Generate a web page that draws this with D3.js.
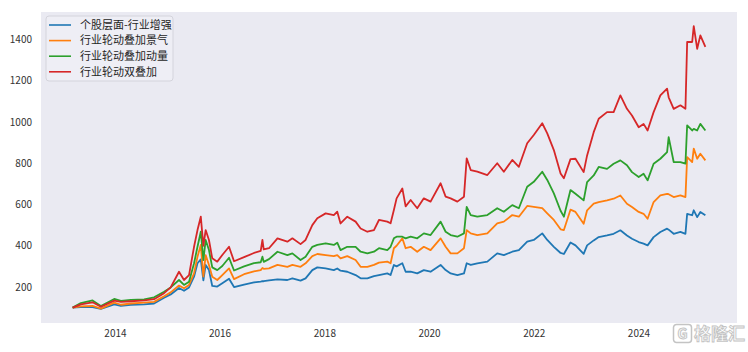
<!DOCTYPE html>
<html>
<head>
<meta charset="utf-8">
<script src="https://cdn.jsdelivr.net/npm/d3@7"></script>
<style>
  body { margin: 0; background: #fff; }
  text { font-family: "Noto Sans CJK SC", "DejaVu Sans", sans-serif; }
</style>
</head>
<body>
<svg id="chart" width="748" height="352"></svg>
<script>
// values
var dates = [
  "2013-03-12","2013-05-08","2013-07-29","2013-09-25","2013-12-27","2014-02-12","2014-04-22","2014-07-24","2014-10-01","2014-12-10",
  "2015-01-25","2015-03-24","2015-04-28","2015-06-02","2015-07-07","2015-07-31","2015-08-23","2015-09-10","2015-09-26","2015-10-19",
  "2015-11-11","2015-12-16","2016-01-20","2016-03-07","2016-04-11","2016-06-20","2016-08-28","2016-10-14","2016-10-26","2016-11-04",
  "2016-12-11","2017-02-08","2017-04-18","2017-05-23","2017-07-19","2017-08-23","2017-10-09","2017-11-13","2018-01-10","2018-03-08",
  "2018-04-01","2018-04-24","2018-06-10","2018-08-07","2018-09-11","2018-10-28","2018-12-13","2019-01-17","2019-03-16","2019-04-08",
  "2019-05-01","2019-05-20","2019-06-29","2019-07-22","2019-08-26","2019-10-11","2019-11-26","2020-01-12","2020-03-22","2020-04-26",
  "2020-05-31","2020-07-17","2020-09-01","2020-09-20","2020-10-18","2020-12-03","2021-02-11","2021-04-21","2021-06-06","2021-08-04",
  "2021-09-19","2021-11-16","2022-01-01","2022-03-01","2022-04-05","2022-05-21","2022-07-07","2022-07-30","2022-09-14","2022-10-19",
  "2022-12-15","2023-01-08","2023-02-23","2023-03-30","2023-05-27","2023-07-12","2023-08-28","2023-10-13","2023-11-17","2024-01-03",
  "2024-02-06","2024-03-05","2024-04-16","2024-06-02","2024-07-19","2024-07-30","2024-09-03","2024-10-20","2024-11-24","2024-12-06",
  "2025-01-10","2025-01-21","2025-02-14","2025-03-08","2025-04-12"
];

var stockEnh = [
  100,102,103,94,116,108,114,116,120,148,
  164,195,182,198,250,315,334,232,307,282,
  205,202,218,240,200,212,222,226,228,228,
  232,237,234,242,231,242,282,295,290,282,
  290,279,274,258,242,242,253,258,266,258,
  307,300,315,274,274,266,282,274,307,282,
  266,258,266,315,307,315,323,363,355,371,
  379,420,428,460,428,395,365,360,416,402,
  361,402,426,442,450,458,475,450,434,418,
  410,402,442,467,483,478,458,467,458,555,
  548,572,539,564,548
];

var rotProsp = [
  100,106,108,95,124,114,120,124,128,155,
  174,207,194,210,266,347,404,250,355,307,
  250,234,258,290,238,262,276,282,292,288,
  290,307,298,307,298,315,350,360,355,350,
  355,339,350,331,298,298,307,318,323,315,
  388,400,436,388,395,371,395,379,436,395,
  363,363,388,476,460,452,460,509,517,549,
  541,593,589,582,557,525,480,476,575,564,
  507,572,604,612,620,628,644,604,588,564,
  555,531,612,644,652,650,636,644,636,830,
  806,871,822,846,814
];

var rotMom = [
  100,122,135,108,142,133,138,140,150,177,
  198,234,210,226,315,395,468,330,428,379,
  295,282,302,342,280,300,316,320,347,322,
  335,371,355,363,331,347,395,404,412,404,
  415,379,395,395,371,363,371,388,379,395,
  436,444,444,436,444,436,460,452,517,468,
  452,444,460,589,549,541,549,582,565,597,
  582,686,710,759,719,654,570,541,670,652,
  620,709,741,782,773,798,814,790,757,733,
  749,717,798,822,854,927,806,806,798,984,
  959,967,959,991,959
];

var rotDouble = [
  100,116,126,104,134,128,131,135,141,170,
  198,274,234,258,395,476,541,400,476,428,
  339,323,355,395,325,345,365,375,428,382,
  388,436,420,436,408,428,500,533,557,549,
  565,508,541,517,484,468,476,525,517,509,
  573,630,678,591,622,582,630,614,703,638,
  630,614,638,824,767,759,743,800,759,816,
  783,897,937,994,945,864,751,727,820,822,
  757,838,951,1016,1048,1048,1129,1064,1032,975,
  991,959,1048,1129,1162,1120,1064,1081,1064,1388,
  1388,1465,1355,1420,1364
];

var seriesNames = ["个股层面-行业增强", "行业轮动叠加景气", "行业轮动叠加动量", "行业轮动双叠加"];
var yTicks = [200, 400, 600, 800, 1000, 1200, 1400];
var xTickYears = [2014, 2016, 2018, 2020, 2022, 2024];

var colors = ["#1f77b4", "#ff7f0e", "#2ca02c", "#d62728"];
var allSeries = [stockEnh, rotProsp, rotMom, rotDouble];

var margin = {top: 12, right: 11, bottom: 29, left: 41};
var width = 748 - margin.left - margin.right,
    height = 352 - margin.top - margin.bottom;

var parse = d3.timeParse("%Y-%m-%d");
var parsed = dates.map(parse);

var svg = d3.select("#chart");
var g = svg.append("g").attr("transform", "translate(" + margin.left + "," + margin.top + ")");

g.append("rect")
  .attr("width", width)
  .attr("height", height)
  .attr("fill", "#eaeaf2");

// matplotlib style 5% margins
var t0 = +parsed[0], t1 = +parsed[parsed.length - 1];
var tPad = (t1 - t0) * 0.05;
var x = d3.scaleTime()
  .domain([new Date(t0 - tPad), new Date(t1 + tPad)])
  .range([0, width]);

var vMin = d3.min(allSeries, function(s) { return d3.min(s); }),
    vMax = d3.max(allSeries, function(s) { return d3.max(s); });
var vPad = (vMax - vMin) * 0.05;
var y = d3.scaleLinear()
  .domain([vMin - vPad, vMax + vPad])
  .range([height, 0]);

var line = d3.line()
  .x(function(d) { return x(d.date); })
  .y(function(d) { return y(d.value); });

allSeries.forEach(function(vals, i) {
  var pts = vals.map(function(v, j) { return {date: parsed[j], value: v}; });
  g.append("path")
    .datum(pts)
    .attr("fill", "none")
    .attr("stroke", colors[i])
    .attr("stroke-width", 1.8)
    .attr("stroke-linejoin", "round")
    .attr("d", line);
});

var xAxis = g.append("g")
  .attr("transform", "translate(0," + height + ")")
  .call(d3.axisBottom(x)
    .tickValues(xTickYears.map(function(yr) { return new Date(yr, 0, 1); }))
    .tickFormat(d3.timeFormat("%Y"))
    .tickSize(0)
    .tickPadding(7));
var yAxis = g.append("g")
  .call(d3.axisLeft(y).tickValues(yTicks).tickFormat(d3.format("d")).tickSize(0).tickPadding(9));

[xAxis, yAxis].forEach(function(ax) {
  ax.select(".domain").remove();
  ax.selectAll("text")
    .attr("fill", "#333")
    .style("font-size", "10px")
    .style("font-family", "'Noto Sans CJK SC', sans-serif");
});

// legend
var legend = g.append("g").attr("transform", "translate(5,4)");
legend.append("rect")
  .attr("width", 127)
  .attr("height", 65)
  .attr("rx", 3)
  .attr("fill", "#eeeef5")
  .attr("stroke", "#d4d4dc")
  .attr("stroke-width", 1);

seriesNames.forEach(function(name, i) {
  var row = legend.append("g").attr("transform", "translate(0," + (9 + i * 15.6) + ")");
  row.append("line")
    .attr("x1", 3).attr("x2", 25)
    .attr("stroke", colors[i])
    .attr("stroke-width", 1.6);
  row.append("text")
    .attr("x", 34)
    .attr("dy", "0.35em")
    .attr("fill", "#262626")
    .style("font-size", "11px")
    .text(name);
});

// watermark
var wm = svg.append("g").attr("transform", "translate(673,324)");
wm.append("rect")
  .attr("x", 0.5).attr("y", 0.5)
  .attr("width", 18).attr("height", 18)
  .attr("rx", 3)
  .attr("fill", "none")
  .attr("stroke", "#c4c4c4")
  .attr("stroke-width", 1.5);
wm.append("text")
  .attr("x", 9.5).attr("y", 15)
  .attr("text-anchor", "middle")
  .attr("fill", "none")
  .attr("stroke", "#c4c4c4")
  .attr("stroke-width", 1)
  .style("font-size", "14px")
  .style("font-weight", "bold")
  .text("G");
wm.append("text")
  .attr("x", 21).attr("y", 16)
  .attr("fill", "#fff")
  .attr("stroke", "#c4c4c4")
  .attr("stroke-width", 0.9)
  .style("font-size", "17px")
  .style("font-weight", "bold")
  .text("格隆汇");
</script>
</body>
</html>
